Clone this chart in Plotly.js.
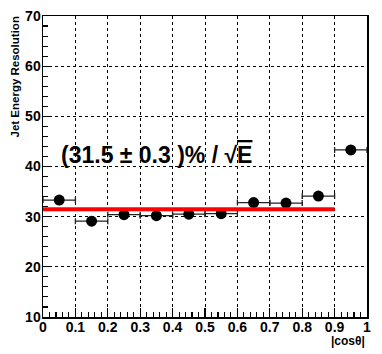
<!DOCTYPE html>
<html><head><meta charset="utf-8">
<script src="https://cdn.plot.ly/plotly-3.0.1.min.js"></script>
<style>html,body{margin:0;padding:0;background:#fff;}#c{width:382px;height:354px;}</style>
</head><body><div id="c"></div>
<script>
// Data
const binCenters = [0.05, 0.15, 0.25, 0.35, 0.45, 0.55, 0.65, 0.75, 0.85, 0.95];
const resolution = [33.3, 29.1, 30.4, 30.2, 30.5, 30.6, 32.8, 32.7, 34.1, 43.3];
const binHalfWidth = [0.05, 0.05, 0.05, 0.05, 0.05, 0.05, 0.05, 0.05, 0.05, 0.05];
const resolutionErr = [0.4, 0.4, 0.4, 0.4, 0.4, 0.4, 0.4, 0.4, 0.4, 0.5];
const fitRange = [0, 0.9];
const fitValue = 31.5;
const fitError = 0.3;

const font = "'Liberation Sans', Arial, Helvetica, sans-serif";

const traces = [
  {
    x: binCenters, y: resolution, type: 'scatter', mode: 'markers',
    marker: {color: 'black', size: 11},
    error_x: {type: 'data', array: binHalfWidth, visible: true, color: '#222', thickness: 1.3, width: 3},
    error_y: {type: 'data', array: resolutionErr, visible: true, color: '#222', thickness: 1.3, width: 0},
    showlegend: false, hoverinfo: 'skip'
  },
  {
    x: fitRange, y: [fitValue, fitValue], type: 'scatter', mode: 'lines',
    line: {color: '#ff0000', width: 4}, showlegend: false, hoverinfo: 'skip'
  }
];

const axisCommon = {
  showline: true, linecolor: 'black', linewidth: 1.5, mirror: true,
  ticks: 'inside', ticklen: 9, tickwidth: 1.3, tickcolor: 'black',
  showgrid: true, gridcolor: 'black', griddash: 'dot', gridwidth: 1,
  zeroline: false,
  tickfont: {family: font, size: 14, color: 'black', weight: 'bold'}
};

const layout = {
  width: 382, height: 354,
  margin: {l: 43, r: 15, t: 16, b: 37},
  paper_bgcolor: 'white', plot_bgcolor: 'white',
  xaxis: Object.assign({}, axisCommon, {
    range: [0, 1], dtick: 0.1, tick0: 0,
    ticklabelstandoff: -3,
    minor: {dtick: 0.02, ticks: 'inside', ticklen: 5, tickwidth: 1.1, tickcolor: 'black', showgrid: false}
  }),
  yaxis: Object.assign({}, axisCommon, {
    range: [10, 70], dtick: 10, tick0: 0,
    ticklabelstandoff: -2,
    minor: {dtick: 2, ticks: 'inside', ticklen: 5, tickwidth: 1.1, tickcolor: 'black', showgrid: false}
  }),
  annotations: [
    {
      xref: 'x', yref: 'y', x: 0.05, y: 42.2, xanchor: 'left', yanchor: 'middle',
      showarrow: false,
      text: '(' + fitValue.toFixed(1) + ' \u00b1 ' + fitError.toFixed(1) + ' )% / \u221a<span style="text-decoration:overline">E</span>',
      font: {family: font, size: 23, color: 'black', weight: 'bold'}
    },
    {
      xref: 'paper', yref: 'paper', x: 1, y: -0.05, xanchor: 'right', yanchor: 'top',
      showarrow: false, text: '|cos\u03b8|',
      font: {family: font, size: 12, color: 'black', weight: 'bold'}
    },
    {
      xref: 'paper', yref: 'paper', x: -0.087, y: 1.006, xanchor: 'center', yanchor: 'top',
      showarrow: false, textangle: -90, text: 'Jet Energy Resolution',
      font: {family: font, size: 11.5, color: 'black', weight: 'bold'}
    }
  ]
};

Plotly.newPlot('c', traces, layout, {staticPlot: true, displayModeBar: false});
</script>
</body></html>
